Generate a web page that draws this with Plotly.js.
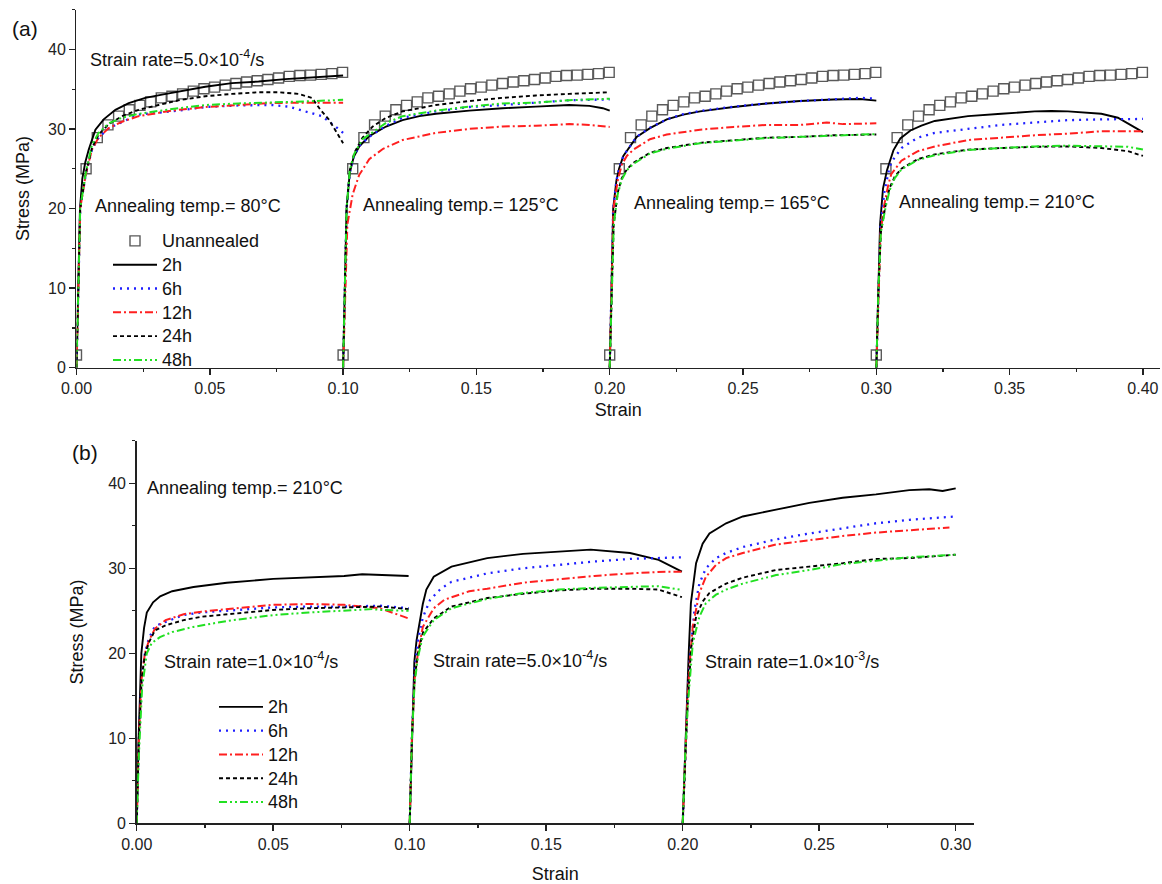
<!DOCTYPE html>
<html><head><meta charset="utf-8">
<script src="https://cdn.plot.ly/plotly-3.0.1.min.js"></script>
<style>html,body{margin:0;padding:0;background:#fff}#chart{width:1162px;height:884px}</style>
</head><body><div id="chart"></div>
<script>
// ---------- categories / labels ----------
const seriesNames = ['2h', '6h', '12h', '24h', '48h'];
const offsetsA = [0, 0.1, 0.2, 0.3];          // panel (a) curve start strains
const offsetsB = [0, 0.1, 0.2];               // panel (b) curve start strains
const xTicksA = [0, 0.05, 0.10, 0.15, 0.20, 0.25, 0.30, 0.35, 0.40];
const xTicksB = [0, 0.05, 0.10, 0.15, 0.20, 0.25, 0.30];
const yTicks = [0, 10, 20, 30, 40];
const groupLabelsA = ['Annealing temp.= 80°C', 'Annealing temp.= 125°C', 'Annealing temp.= 165°C', 'Annealing temp.= 210°C'];
const groupLabelsB = ['Strain rate=1.0×10<sup>-4</sup>/s', 'Strain rate=5.0×10<sup>-4</sup>/s', 'Strain rate=1.0×10<sup>-3</sup>/s'];

// ---------- panel (a): unannealed reference (same curve in every group) ----------
const unannealed = [[0,1.6],[0.0036,25.0],[0.0078,28.9],[0.0118,30.5],[0.0158,31.6],[0.0198,32.4],[0.0238,32.95],[0.0278,33.4],[0.0318,33.9],[0.0358,34.1],[0.0398,34.4],[0.0438,34.75],[0.0478,35.05],[0.0518,35.25],[0.0558,35.5],[0.0598,35.7],[0.0638,35.9],[0.0678,36.05],[0.0718,36.2],[0.0758,36.4],[0.0798,36.6],[0.0838,36.7],[0.0878,36.75],[0.0918,36.85],[0.0958,36.95],[0.0998,37.1]];

// ---------- panel (a) 80°C ----------
const a80_2h = [[0,0],[0.0007,10],[0.0013,20],[0.0022,23.8],[0.0033,25.8],[0.0046,27.4],[0.0071,29.9],[0.0102,31.2],[0.0146,32.4],[0.0196,33.25],[0.0258,33.9],[0.0321,34.3],[0.0383,34.7],[0.0483,35.3],[0.0583,35.75],[0.0683,35.95],[0.0783,36.25],[0.0883,36.5],[0.1,36.7]];
const a80_6h = [[0,0],[0.0007,10],[0.0014,20],[0.0035,24.3],[0.0058,27.4],[0.0083,28.9],[0.0121,30.1],[0.0233,31.8],[0.0358,32.2],[0.0483,32.75],[0.0608,32.95],[0.0733,33.0],[0.0796,32.8],[0.0858,32.2],[0.0921,31.6],[0.0971,30.3],[0.1,29.5]];
const a80_12h = [[0,0],[0.0007,10],[0.0014,20],[0.0035,24.3],[0.0058,27.4],[0.0083,28.9],[0.0121,30.1],[0.0171,30.9],[0.0233,31.6],[0.0358,32.3],[0.0483,32.75],[0.0608,33.0],[0.0733,33.25],[0.0858,33.3],[0.1,33.3]];
const a80_24h = [[0,0],[0.0007,10],[0.0014,20],[0.0035,24.5],[0.0058,27.6],[0.0083,29.3],[0.0121,30.6],[0.0171,31.6],[0.0233,32.4],[0.0308,33.0],[0.0383,33.6],[0.0483,34.1],[0.0583,34.4],[0.0683,34.6],[0.0758,34.6],[0.0833,34.4],[0.0883,33.9],[0.0915,32.4],[0.0946,31.2],[0.0977,29.5],[0.1,28.2]];
const a80_48h = [[0,0],[0.0007,10],[0.0014,20],[0.0035,24.5],[0.0058,28.0],[0.0083,29.5],[0.0121,30.7],[0.0171,31.4],[0.0233,31.9],[0.0358,32.5],[0.0483,33.0],[0.0608,33.2],[0.0733,33.3],[0.0858,33.45],[0.1,33.65]];

// ---------- panel (a) 125°C ----------
const a125_2h = [[0,0],[0.0007,10],[0.0013,20],[0.0025,24.5],[0.004,26.5],[0.0061,27.8],[0.0098,29.1],[0.0161,30.3],[0.0223,31.1],[0.0286,31.6],[0.0348,31.9],[0.0473,32.3],[0.0598,32.6],[0.0723,32.8],[0.0848,33.0],[0.0924,32.9],[0.0974,32.6],[0.1,32.3]];
const a125_6h = [[0,0],[0.0007,10],[0.0013,20],[0.0025,24.5],[0.004,26.5],[0.0061,27.9],[0.0098,29.0],[0.0161,30.4],[0.0223,31.4],[0.0348,32.2],[0.0473,32.75],[0.0598,33.0],[0.0723,33.3],[0.0848,33.6],[0.1,33.7]];
const a125_12h = [[0,0],[0.0008,10],[0.0016,18],[0.0036,21.8],[0.006,24.2],[0.0098,26.2],[0.015,27.5],[0.0223,28.6],[0.0348,29.5],[0.0473,30.0],[0.0598,30.3],[0.0723,30.4],[0.0848,30.6],[0.0924,30.5],[0.1,30.25]];
const a125_24h = [[0,0],[0.0007,10],[0.0013,20],[0.0025,24.8],[0.0042,27.0],[0.0073,28.9],[0.0111,30.3],[0.0161,31.4],[0.0223,32.2],[0.0348,33.0],[0.0473,33.5],[0.0598,33.9],[0.0723,34.2],[0.0848,34.4],[0.1,34.6]];
const a125_48h = [[0,0],[0.0007,10],[0.0013,20],[0.0025,24.8],[0.0042,26.9],[0.0073,28.7],[0.0123,29.9],[0.0161,30.75],[0.0223,31.6],[0.0348,32.3],[0.0473,32.8],[0.0598,33.2],[0.0723,33.3],[0.0848,33.6],[0.1,33.8]];

// ---------- panel (a) 165°C ----------
const a165_2h = [[0,0],[0.0007,10],[0.0013,20],[0.0025,23.5],[0.0035,25.0],[0.0051,26.6],[0.0076,27.8],[0.0101,29.0],[0.0151,30.1],[0.0214,31.2],[0.0276,31.8],[0.0339,32.2],[0.0464,32.75],[0.0589,33.2],[0.0714,33.5],[0.0839,33.7],[0.0939,33.75],[0.1,33.55]];
const a165_6h = [[0,0],[0.0007,10],[0.0013,20],[0.0025,23.5],[0.0035,25.0],[0.0051,26.6],[0.0076,27.8],[0.0101,29.0],[0.0151,30.15],[0.0214,31.2],[0.0276,31.85],[0.0339,32.25],[0.0464,32.8],[0.0589,33.2],[0.0714,33.5],[0.0839,33.75],[0.0939,33.9],[0.1,33.8]];
const a165_12h = [[0,0],[0.0007,10],[0.0014,20],[0.003,23.5],[0.0045,25.5],[0.0064,26.6],[0.0089,27.4],[0.0151,28.7],[0.0214,29.3],[0.0339,29.9],[0.0464,30.25],[0.0589,30.5],[0.0714,30.5],[0.0814,30.8],[0.0875,30.6],[0.1,30.7]];
const a165_24h = [[0,0],[0.0008,10],[0.0015,18],[0.003,22.0],[0.0045,23.8],[0.0064,24.9],[0.0089,25.75],[0.0151,27.0],[0.0214,27.6],[0.0339,28.25],[0.0464,28.6],[0.0589,28.9],[0.0714,29.0],[0.0839,29.2],[0.1,29.3]];
const a165_48h = [[0,0],[0.0008,10],[0.0015,18],[0.003,21.8],[0.0045,23.6],[0.0064,24.8],[0.0089,25.6],[0.0151,26.9],[0.0214,27.5],[0.0339,28.2],[0.0464,28.55],[0.0589,28.85],[0.0714,29.0],[0.0839,29.15],[0.1,29.35]];

// ---------- panel (a) 210°C ----------
const a210_2h = [[0,0],[0.0007,10],[0.0014,18],[0.0025,22.5],[0.004,24.8],[0.0064,27.3],[0.009,28.8],[0.0128,29.8],[0.0169,30.4],[0.0219,31.0],[0.0344,31.6],[0.0469,31.9],[0.0594,32.2],[0.0657,32.25],[0.0719,32.2],[0.0844,31.9],[0.0906,31.4],[0.1,29.6]];
const a210_6h = [[0,0],[0.0008,10],[0.0016,18],[0.003,22.0],[0.0045,24.5],[0.0056,25.8],[0.0094,27.6],[0.0156,28.9],[0.0219,29.5],[0.0344,30.0],[0.0469,30.5],[0.0594,30.8],[0.0719,31.1],[0.0844,31.2],[0.1,31.25]];
const a210_12h = [[0,0],[0.0008,10],[0.0016,17],[0.003,20.5],[0.0045,23.0],[0.0056,24.3],[0.0094,26.0],[0.0156,27.2],[0.0219,27.8],[0.0344,28.6],[0.0469,28.9],[0.0594,29.2],[0.0719,29.4],[0.0844,29.7],[0.1,29.7]];
const a210_24h = [[0,0],[0.0008,10],[0.0017,17],[0.0035,20.5],[0.005,22.6],[0.0069,24.0],[0.0094,25.0],[0.0156,26.2],[0.0219,26.8],[0.0344,27.4],[0.0469,27.6],[0.0594,27.75],[0.0719,27.8],[0.0844,27.6],[0.0944,27.2],[0.1,26.6]];
const a210_48h = [[0,0],[0.0008,10],[0.0017,17],[0.0035,20.2],[0.005,22.3],[0.0069,23.8],[0.0094,24.9],[0.0156,26.1],[0.0219,26.7],[0.0344,27.35],[0.0469,27.6],[0.0594,27.8],[0.0719,27.9],[0.0844,27.8],[0.0944,27.75],[0.1,27.4]];

// ---------- panel (b) 1.0e-4 /s ----------
const b1_2h = [[0,0],[0.0007,10],[0.0017,20],[0.0027,23.0],[0.0037,24.8],[0.006,26.0],[0.0086,26.7],[0.013,27.3],[0.0208,27.8],[0.033,28.3],[0.05,28.75],[0.063,28.9],[0.076,29.1],[0.0826,29.3],[0.089,29.2],[0.0996,29.1]];
const b1_6h = [[0,0],[0.0008,10],[0.0018,17],[0.003,20.0],[0.0045,21.8],[0.0067,23.2],[0.0106,23.7],[0.0172,24.5],[0.0237,24.8],[0.0368,25.1],[0.0499,25.4],[0.063,25.5],[0.076,25.5],[0.0891,25.6],[0.0996,25.3]];
const b1_12h = [[0,0],[0.0008,10],[0.0018,17],[0.003,20.0],[0.0045,21.5],[0.0067,22.9],[0.0106,23.9],[0.0172,24.6],[0.0237,24.9],[0.0368,25.3],[0.0499,25.7],[0.063,25.8],[0.076,25.7],[0.0891,25.3],[0.0996,24.1]];
const b1_24h = [[0,0],[0.0008,10],[0.0018,17],[0.003,19.8],[0.0045,21.3],[0.0067,22.7],[0.0106,23.3],[0.0172,23.9],[0.0237,24.3],[0.0368,24.7],[0.0499,25.1],[0.063,25.3],[0.076,25.4],[0.0891,25.5],[0.0996,25.2]];
const b1_48h = [[0,0],[0.0008,8],[0.002,16],[0.0037,20.0],[0.0055,21.2],[0.0085,21.9],[0.0130,22.5],[0.0207,23.1],[0.033,23.8],[0.05,24.5],[0.063,24.8],[0.076,25.0],[0.0865,25.2],[0.0891,25.1],[0.0996,25.0]];

// ---------- panel (b) 5.0e-4 /s ----------
const b5_2h = [[0,0],[0.0008,10],[0.0017,19],[0.0025,21.5],[0.0035,23.5],[0.0048,25.8],[0.0061,27.5],[0.0088,29.0],[0.0153,30.2],[0.0284,31.2],[0.0415,31.7],[0.0546,32.0],[0.0663,32.2],[0.0807,31.8],[0.0912,31.0],[0.0997,29.6]];
const b5_6h = [[0,0],[0.0008,10],[0.0018,18],[0.003,21.5],[0.0048,24.2],[0.0075,26.3],[0.0114,27.6],[0.0153,28.4],[0.0284,29.4],[0.0415,30.0],[0.0546,30.4],[0.0676,30.8],[0.0807,31.1],[0.0938,31.2],[0.0997,31.3]];
const b5_12h = [[0,0],[0.0008,10],[0.0018,17],[0.003,20.0],[0.0048,23.1],[0.0088,25.3],[0.0127,26.3],[0.0218,27.3],[0.0284,27.6],[0.0415,28.3],[0.0546,28.7],[0.0676,29.1],[0.0807,29.4],[0.0938,29.6],[0.0997,29.6]];
const b5_24h = [[0,0],[0.0008,10],[0.0018,17],[0.003,20.0],[0.0048,22.4],[0.0088,24.1],[0.0153,25.5],[0.0284,26.5],[0.0415,27.0],[0.0546,27.4],[0.0676,27.6],[0.0807,27.6],[0.0912,27.5],[0.0997,26.6]];
const b5_48h = [[0,0],[0.0008,10],[0.0018,16.5],[0.003,19.5],[0.0048,22.0],[0.0088,23.9],[0.0153,25.3],[0.0284,26.4],[0.0415,27.1],[0.0546,27.5],[0.0676,27.7],[0.0807,27.85],[0.0912,27.9],[0.0997,27.45]];

// ---------- panel (b) 1.0e-3 /s ----------
const b10_2h = [[0,0],[0.0008,8],[0.0016,16],[0.0022,20],[0.003,25.9],[0.0049,30.6],[0.0073,32.9],[0.0098,34.1],[0.0159,35.3],[0.022,36.1],[0.0342,36.9],[0.0464,37.7],[0.0586,38.3],[0.0708,38.7],[0.083,39.2],[0.0903,39.3],[0.0952,39.1],[0.1,39.4]];
const b10_6h = [[0,0],[0.0009,8],[0.0018,15],[0.0025,19],[0.0035,22.5],[0.0043,25.1],[0.0061,28.2],[0.0085,30.0],[0.0122,31.2],[0.0159,31.8],[0.022,32.5],[0.0342,33.4],[0.0464,34.1],[0.0586,34.7],[0.0708,35.3],[0.083,35.7],[0.1,36.1]];
const b10_12h = [[0,0],[0.0009,8],[0.0018,15],[0.0026,19],[0.0037,23.2],[0.0061,27.1],[0.0085,29.0],[0.0122,30.4],[0.0159,31.2],[0.022,31.8],[0.0342,32.8],[0.0464,33.3],[0.0586,33.8],[0.0708,34.2],[0.083,34.5],[0.0977,34.8]];
const b10_24h = [[0,0],[0.0009,8],[0.0018,14],[0.0026,18],[0.003,20.5],[0.0049,24.3],[0.0073,26.1],[0.0098,27.1],[0.0159,28.2],[0.022,28.9],[0.0342,29.8],[0.0464,30.2],[0.0586,30.6],[0.0708,31.1],[0.083,31.2],[0.1,31.6]];
const b10_48h = [[0,0],[0.0009,8],[0.0019,14],[0.0028,18],[0.0037,21.2],[0.0061,24.3],[0.0085,25.9],[0.0122,26.9],[0.0159,27.5],[0.022,28.2],[0.0342,29.2],[0.0464,29.8],[0.0586,30.5],[0.0708,30.9],[0.083,31.3],[0.1,31.6]];

// ---------- build ----------
const groupsA = {
  '2h':  [a80_2h, a125_2h, a165_2h, a210_2h],
  '6h':  [a80_6h, a125_6h, a165_6h, a210_6h],
  '12h': [a80_12h, a125_12h, a165_12h, a210_12h],
  '24h': [a80_24h, a125_24h, a165_24h, a210_24h],
  '48h': [a80_48h, a125_48h, a165_48h, a210_48h]
};
const groupsB = {
  '2h':  [b1_2h, b5_2h, b10_2h],
  '6h':  [b1_6h, b5_6h, b10_6h],
  '12h': [b1_12h, b5_12h, b10_12h],
  '24h': [b1_24h, b5_24h, b10_24h],
  '48h': [b1_48h, b5_48h, b10_48h]
};
const styles = {
  '2h':  {color: '#000000', width: 1.9, dash: 'solid'},
  '6h':  {color: '#1f1fff', width: 2.3, dash: '2px,5px'},
  '12h': {color: '#ff1f1f', width: 2.0, dash: '8px,3px,2px,3px'},
  '24h': {color: '#000000', width: 1.9, dash: '4px,3px'},
  '48h': {color: '#22e022', width: 2.0, dash: '8px,3px,2px,3px,2px,3px'}
};
function joinGroups(groups, offsets) {
  const xs = [], ys = [];
  groups.forEach((g, i) => {
    g.forEach(p => { xs.push(+(offsets[i] + p[0]).toFixed(5)); ys.push(p[1]); });
    if (i < groups.length - 1) { xs.push(null); ys.push(null); }
  });
  return [xs, ys];
}
const FONT = 'Liberation Sans, Arial, sans-serif';
const legendName = s => '<span style="font-size:18px">' + s + '</span>';
const traces = [];
{
  const [ux, uy] = joinGroups(offsetsA.map(() => unannealed), offsetsA);
  traces.push({x: ux, y: uy, type: 'scatter', mode: 'markers', name: legendName('Unannealed'), xaxis: 'x', yaxis: 'y', legend: 'legend',
    marker: {symbol: 'square-open', size: 10, color: '#5a5a5a', line: {width: 1.4, color: '#5a5a5a'}}});
}
seriesNames.forEach(s => {
  const [x, y] = joinGroups(groupsA[s], offsetsA);
  traces.push({x, y, type: 'scatter', mode: 'lines', name: legendName(s), xaxis: 'x', yaxis: 'y', legend: 'legend', connectgaps: false, line: styles[s]});
});
seriesNames.forEach(s => {
  const [x, y] = joinGroups(groupsB[s], offsetsB);
  traces.push({x, y, type: 'scatter', mode: 'lines', name: legendName(s), xaxis: 'x2', yaxis: 'y2', legend: 'legend2', connectgaps: false, line: styles[s]});
});

function axisBase(extra) {
  return Object.assign({
    showline: true, linecolor: '#222', linewidth: 1.5, mirror: false,
    ticks: 'outside', ticklen: 6, tickwidth: 1.5, tickcolor: '#222',
    showgrid: false, zeroline: false, fixedrange: true,
    tickfont: {family: FONT, size: 16, color: '#222'}
  }, extra);
}
const annotations = [];
const annA_x = [0.0062, 0.1066, 0.2083, 0.3079];
const annA_y = [20.3, 20.4, 20.7, 20.8];
groupLabelsA.forEach((t, i) => annotations.push({text: t, x: annA_x[i], y: annA_y[i], xref: 'x', yref: 'y', xanchor: 'left', yanchor: 'middle', showarrow: false, font: {family: FONT, size: 18, color: '#111'}}));
annotations.push({text: 'Strain rate=5.0×10<sup>-4</sup>/s', x: 0.0043, y: 38.9, xref: 'x', yref: 'y', xanchor: 'left', yanchor: 'middle', showarrow: false, font: {family: FONT, size: 18, color: '#111'}});
const annB_x = [0.0092, 0.1078, 0.2073];
const annB_y = [19.2, 19.3, 19.1];
groupLabelsB.forEach((t, i) => annotations.push({text: t, x: annB_x[i], y: annB_y[i], xref: 'x2', yref: 'y2', xanchor: 'left', yanchor: 'middle', showarrow: false, font: {family: FONT, size: 18, color: '#111'}}));
annotations.push({text: 'Annealing temp.= 210°C', x: 0.003, y: 39.4, xref: 'x2', yref: 'y2', xanchor: 'left', yanchor: 'middle', showarrow: false, font: {family: FONT, size: 18, color: '#111'}});
annotations.push({text: '(a)', x: 10/1162, y: 1 - 29/884, xref: 'paper', yref: 'paper', xanchor: 'left', yanchor: 'middle', showarrow: false, font: {family: FONT, size: 21, color: '#111'}});
annotations.push({text: '(b)', x: 70/1162, y: 1 - 453/884, xref: 'paper', yref: 'paper', xanchor: 'left', yanchor: 'middle', showarrow: false, font: {family: FONT, size: 21, color: '#111'}});

const layout = {
  width: 1162, height: 884,
  margin: {l: 0, r: 0, t: 0, b: 0, pad: 0},
  paper_bgcolor: '#ffffff', plot_bgcolor: 'rgba(0,0,0,0)',
  font: {family: FONT, color: '#111'},
  showlegend: true,
  xaxis: axisBase({domain: [0.06583, 0.99828], range: [0, 0.4064], anchor: 'y', tickvals: xTicksA, ticktext: xTicksA.map(v => v.toFixed(2)),
    minor: {ticks: 'outside', ticklen: 3, tickwidth: 1.2, tickcolor: '#222', dtick: 0.025, tick0: 0},
    title: {text: 'Strain', standoff: 7, font: {family: FONT, size: 18, color: '#111'}}}),
  yaxis: axisBase({domain: [0.58405, 0.98925], range: [0, 45], anchor: 'x', tickvals: yTicks, ticktext: yTicks.map(String),
    minor: {ticks: 'outside', ticklen: 3, tickwidth: 1.2, tickcolor: '#222', dtick: 5, tick0: 0},
    title: {text: 'Stress (MPa)', standoff: 13, font: {family: FONT, size: 18, color: '#111'}}}),
  xaxis2: axisBase({domain: [0.11764, 0.83821], range: [0, 0.3067], anchor: 'y2', tickvals: xTicksB, ticktext: xTicksB.map(v => v.toFixed(2)),
    minor: {ticks: 'outside', ticklen: 3, tickwidth: 1.2, tickcolor: '#222', dtick: 0.025, tick0: 0},
    title: {text: 'Strain', standoff: 15, font: {family: FONT, size: 18, color: '#111'}}}),
  yaxis2: axisBase({domain: [0.06867, 0.50136], range: [0, 45], anchor: 'x2', tickvals: yTicks, ticktext: yTicks.map(String),
    minor: {ticks: 'outside', ticklen: 3, tickwidth: 1.2, tickcolor: '#222', dtick: 5, tick0: 0},
    title: {text: 'Stress (MPa)', standoff: 20, font: {family: FONT, size: 18, color: '#111'}}}),
  legend: {x: 108/1162, y: 1 - 224/884, xanchor: 'left', yanchor: 'top', bgcolor: 'rgba(0,0,0,0)', borderwidth: 0,
    font: {family: FONT, size: 16, color: '#111'}, itemwidth: 44, tracegroupgap: 0},
  legend2: {x: 214/1162, y: 1 - 690/884, xanchor: 'left', yanchor: 'top', bgcolor: 'rgba(0,0,0,0)', borderwidth: 0,
    font: {family: FONT, size: 16, color: '#111'}, itemwidth: 44, tracegroupgap: 0},
  annotations: annotations
};
Plotly.newPlot('chart', traces, layout, {staticPlot: true, displayModeBar: false});
</script>
</body></html>
